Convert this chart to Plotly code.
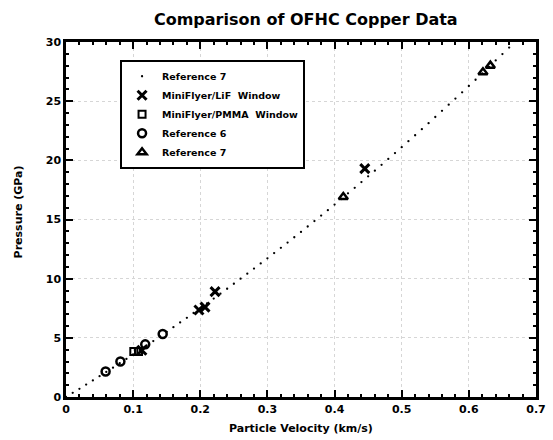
import plotly.graph_objects as go

# Reference 7 Hugoniot (dotted curve), particle velocity km/s vs pressure GPa
ref_u = [round(i * 0.01, 2) for i in range(0, 68)]
ref_p = [0.00, 0.35, 0.69, 1.05, 1.40, 1.76, 2.12, 2.48, 2.85, 3.22,
         3.59, 3.97, 4.35, 4.73, 5.12, 5.51, 5.90, 6.30, 6.69, 7.10,
         7.50, 7.91, 8.32, 8.73, 9.15, 9.57, 10.00, 10.42, 10.85, 11.29,
         11.72, 12.16, 12.61, 13.05, 13.50, 13.95, 14.41, 14.87, 15.33, 15.79,
         16.26, 16.73, 17.21, 17.68, 18.16, 18.65, 19.13, 19.62, 20.12, 20.61,
         21.11, 21.62, 22.12, 22.63, 23.14, 23.66, 24.18, 24.70, 25.22, 25.75,
         26.28, 26.81, 27.35, 27.89, 28.44, 28.98, 29.53, 30.09]

lif_u = [0.113, 0.198, 0.207, 0.222, 0.445]
lif_p = [3.95, 7.35, 7.60, 8.90, 19.30]

pmma_u = [0.101, 0.108]
pmma_p = [3.85, 3.85]

ref6_u = [0.059, 0.081, 0.118, 0.144]
ref6_p = [2.16, 3.00, 4.45, 5.32]

ref7_u = [0.413, 0.621, 0.632]
ref7_p = [16.90, 27.45, 28.00]

x_ticks = [0, 0.1, 0.2, 0.3, 0.4, 0.5, 0.6, 0.7]
x_labels = ["0", "0.1", "0.2", "0.3", "0.4", "0.5", "0.6", "0.7"]
y_ticks = [0, 5, 10, 15, 20, 25, 30]
y_labels = ["0", "5", "10", "15", "20", "25", "30"]

FONT = "DejaVu Sans"

fig = go.Figure()
fig.add_trace(go.Scatter(x=ref_u, y=ref_p, mode="markers", name="<b>Reference 7</b>",
                         marker=dict(size=2.3, color="black")))
fig.add_trace(go.Scatter(x=lif_u, y=lif_p, mode="markers", name="<b>MiniFlyer/LiF  Window</b>",
                         marker=dict(symbol="x-thin", size=9, color="black",
                                     line=dict(width=3, color="black"))))
fig.add_trace(go.Scatter(x=pmma_u, y=pmma_p, mode="markers", name="<b>MiniFlyer/PMMA  Window</b>",
                         marker=dict(symbol="square-open", size=7, color="black",
                                     line=dict(width=2, color="black"))))
fig.add_trace(go.Scatter(x=ref6_u, y=ref6_p, mode="markers", name="<b>Reference 6</b>",
                         marker=dict(symbol="circle-open", size=8, color="black",
                                     line=dict(width=2.5, color="black"))))
fig.add_trace(go.Scatter(x=ref7_u, y=ref7_p, mode="markers", name="<b>Reference 7</b>",
                         marker=dict(symbol="triangle-up-open", size=8, color="black",
                                     line=dict(width=2.5, color="black"))))

axis_common = dict(
    showline=True, linewidth=2.5, linecolor="black", mirror="allticks",
    ticks="inside", ticklen=7, tickwidth=2, tickcolor="black",
    showgrid=True, gridcolor="#d6d6d6", griddash="dot", gridwidth=1,
    zeroline=False,
    tickfont=dict(family=FONT, size=11, color="black", weight="bold"),
)

fig.update_xaxes(range=[0, 0.7], tickvals=x_ticks, ticktext=x_labels,
                 minor=dict(dtick=0.02, ticks="inside", ticklen=3, tickwidth=1.5, tickcolor="black",
                            showgrid=False),
                 **axis_common)
fig.update_yaxes(range=[0, 30], tickvals=y_ticks, ticktext=y_labels,
                 minor=dict(dtick=1, ticks="inside", ticklen=3, tickwidth=1.5, tickcolor="black",
                            showgrid=False),
                 **axis_common)

fig.update_layout(
    width=553, height=440,
    margin=dict(l=66, r=7, t=42, b=43),
    paper_bgcolor="white", plot_bgcolor="white",
    showlegend=True,
    title=dict(text="<b>Comparison of OFHC Copper Data</b>", x=0.553, xanchor="center",
               y=0.957, yanchor="middle",
               font=dict(family=FONT, size=16, color="black")),
    legend=dict(x=0.115, y=0.95, xanchor="left", yanchor="top",
                bgcolor="white", bordercolor="black", borderwidth=2,
                font=dict(family=FONT, size=9.5, color="black"),
                tracegroupgap=2, itemwidth=30),
    annotations=[
        dict(text="<b>Particle Velocity (km/s)</b>", xref="paper", yref="paper",
             x=0.5, y=0, xanchor="center", yanchor="top", yshift=-23, showarrow=False,
             font=dict(family=FONT, size=11, color="black")),
        dict(text="<b>Pressure (GPa)</b>", xref="paper", yref="paper",
             x=0, xshift=-48, y=0.52, xanchor="center", yanchor="middle", showarrow=False,
             textangle=-90, font=dict(family=FONT, size=11, color="black")),
    ],
)

fig.write_html("out.html", config={"displayModeBar": False},
               post_script="document.body.style.margin='0';document.body.style.padding='0';")
